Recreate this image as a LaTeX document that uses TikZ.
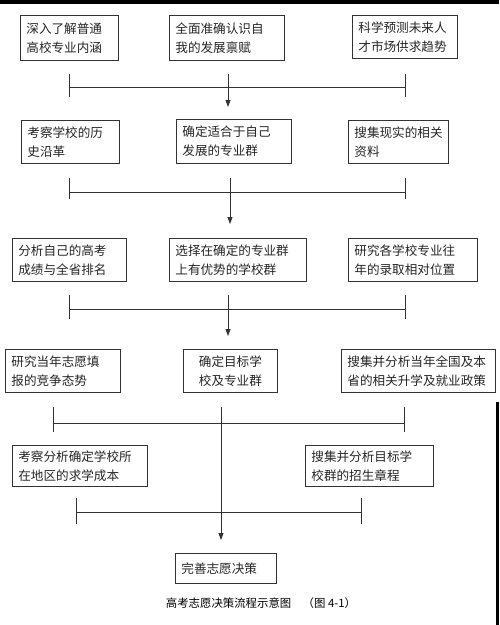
\documentclass[tikz,border=0pt]{standalone}
\usepackage{fontspec}
\newfontfamily\cjk{Noto Sans CJK SC}
\usetikzlibrary{arrows.meta}
\begin{document}
\begin{tikzpicture}[
x=1pt, y=-1pt,
box/.style 2 args={draw=black!80, line width=0.8pt, anchor=north west, align=left,
  inner xsep=6pt, inner ysep=2pt, text width=#1, minimum height=#2,
  font=\cjk\fontsize{12.6}{19}\selectfont, text=black!85},
bus/.style={draw=black!80, line width=0.8pt},
flow/.style={draw=black!80, line width=0.8pt, -{Triangle[length=7pt, width=5pt]}},
caption/.style={font=\cjk\fontsize{11.4}{13}\selectfont},
]
\useasboundingbox (0,0) rectangle (499,625);
\fill[white] (0,0) rectangle (499,625);
% scan edges
\fill[black] (0,0) rectangle (499,4);
\fill[black] (496,402) rectangle (499,625);
% first row
\node[box={86pt}{45pt}] (know) at (20,15) {深入了解普通\\高校专业内涵};
\node[box={103pt}{45pt}] (self) at (169,15) {全面准确认识自\\我的发展禀赋};
\node[box={93pt}{43pt}] (market) at (352,15) {科学预测未来人\\才市场供求趋势};
% second row
\node[box={86pt}{43pt}] (history) at (21,120) {考察学校的历\\史沿革};
\node[box={103pt}{44pt}] (majors) at (176,119) {确定适合于自己\\发展的专业群};
\node[box={88pt}{43pt}] (data) at (348,120) {搜集现实的相关\\资料};
% third row
\node[box={102pt}{43pt}] (score) at (12,238) {分析自己的高考\\成绩与全省排名};
\node[box={125pt}{43pt}] (schools) at (169,238) {选择在确定的专业群\\上有优势的学校群};
\node[box={117pt}{43pt}] (rank) at (348,238) {研究各学校专业往\\年的录取相对位置};
% fourth row
\node[box={103pt}{43pt}] (compete) at (5,349) {研究当年志愿填\\报的竞争态势};
\node[box={82pt}{43pt}, align=center] (target) at (183,349) {确定目标学\\校及专业群};
\node[box={142pt}{43pt}] (policy) at (341,349) {搜集并分析当年全国及本\\省的相关升学及就业政策};
% fifth row
\node[box={123pt}{41pt}] (cost) at (12,445) {考察分析确定学校所\\在地区的求学成本};
\node[box={116pt}{41pt}] (rules) at (305,445) {搜集并分析目标学\\校群的招生章程};
% last box
\node[box={89pt}{30pt}] (final) at (175,553) {完善志愿决策};
\node[caption] (title) at (261,603) {高考志愿决策流程示意图\quad（图 4-1）};

% bus lines
\coordinate (b1w) at (69,87);   \coordinate (b1e) at (405,87);
\coordinate (b2w) at (69,192);  \coordinate (b2e) at (405,192);
\coordinate (b3w) at (69,309);  \coordinate (b3e) at (405,309);
\coordinate (b4w) at (53,423);  \coordinate (b4e) at (404,423);
\coordinate (b5w) at (76,512);  \coordinate (b5e) at (361,512);
\draw[bus] (b1w) -- (b1e);
\draw[bus] (b1w) ++(0,-13) -- ++(0,23);
\draw[bus] (b1e) ++(0,-13) -- ++(0,23);
\draw[bus] (b2w) -- (b2e);
\draw[bus] (b2w) ++(0,-14) -- ++(0,21);
\draw[bus] (b2e) ++(0,-14) -- ++(0,21);
\draw[bus] (b3w) -- (b3e);
\draw[bus] (b3w) ++(0,-14) -- ++(0,24);
\draw[bus] (b3e) ++(0,-14) -- ++(0,24);
\draw[bus] (b4w) -- (b4e);
\draw[bus] (b4w) ++(0,-16) -- ++(0,25);
\draw[bus] (b4e) ++(0,-16) -- ++(0,25);
\draw[bus] (b5w) -- (b5e);
\draw[bus] (b5w) ++(0,-14) -- ++(0,26);
\draw[bus] (b5e) ++(0,-14) -- ++(0,26);

% main arrows
\coordinate (s1) at (228,74);  \coordinate (t1) at (228,107);
\coordinate (s2) at (230,178); \coordinate (t2) at (230,224);
\coordinate (s3) at (228,295); \coordinate (t3) at (228,336);
\coordinate (s4) at (221,407); \coordinate (t4) at (221,540);
\draw[flow] (s1) -- (t1);
\draw[flow] (s2) -- (t2);
\draw[flow] (s3) -- (t3);
\draw[flow] (s4) -- (t4);
\end{tikzpicture}
\end{document}
